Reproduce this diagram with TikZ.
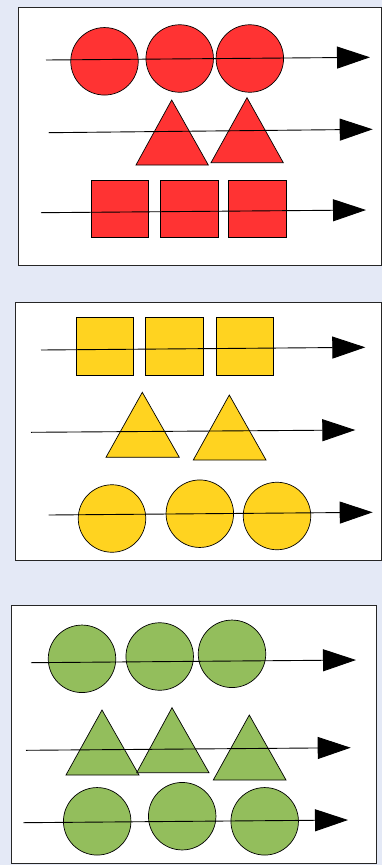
\documentclass[tikz,border=0pt]{standalone}
\usetikzlibrary{arrows.meta}
\definecolor{bgc}{RGB}{228,233,246}
\definecolor{redf}{RGB}{255,51,51}
\definecolor{yelf}{RGB}{255,211,32}
\definecolor{grnf}{RGB}{147,190,92}
\tikzset{
  panel/.style={draw=black!85,fill=white,line width=0.9pt},
  disc/.style={circle,draw=black,line width=0.7pt,minimum size=67.5pt,inner sep=0pt},
  sq/.style={draw=black,line width=0.7pt},
  tri/.style={draw=black,line width=0.7pt},
  axis/.style={draw=black,line width=0.9pt,-{Triangle[length=33pt,width=22pt]}}
}
\begin{document}
\begin{tikzpicture}[x=1pt,y=-1pt]
\fill[bgc] (0,0) rectangle (382,865);
\useasboundingbox (0,0) rectangle (382,865);
% ---------- panel 1 (red)
\draw[panel] (18,7) rectangle (381,265);
\node[disc,fill=redf] (r1) at (104.5,61.3) {};
\node[disc,fill=redf] (r2) at (179.7,58.5) {};
\node[disc,fill=redf] (r3) at (249.8,58.5) {};
\filldraw[tri,fill=redf] (171.7,100) -- (208.3,165) -- (136,165) -- cycle;
\filldraw[tri,fill=redf] (247,97.7) -- (283.3,162.7) -- (211,162.7) -- cycle;
\filldraw[sq,fill=redf] (91,180) rectangle (148.7,237.3);
\filldraw[sq,fill=redf] (160.7,180) rectangle (218.7,237.3);
\filldraw[sq,fill=redf] (228.3,180) rectangle (286,237.3);
\coordinate (a1s) at (46,60); \coordinate (a1e) at (370,57.3);
\coordinate (a2s) at (48.7,132.7); \coordinate (a2e) at (372.7,129.3);
\coordinate (a3s) at (41,212.7); \coordinate (a3e) at (366,210);
\draw[axis] (a1s) -- (a1e);
\draw[axis] (a2s) -- (a2e);
\draw[axis] (a3s) -- (a3e);
% ---------- panel 2 (yellow)
\draw[panel] (15.7,302.3) rectangle (381,560);
\filldraw[sq,fill=yelf] (76,317.3) rectangle (133.7,375.3);
\filldraw[sq,fill=yelf] (145.7,317.3) rectangle (203.7,375.3);
\filldraw[sq,fill=yelf] (216,317.3) rectangle (273.7,375.3);
\filldraw[tri,fill=yelf] (142.3,392.3) -- (179.3,457.3) -- (106,457.3) -- cycle;
\filldraw[tri,fill=yelf] (229.3,395) -- (266,460) -- (193.3,460) -- cycle;
\node[disc,fill=yelf] (y1) at (112,518.5) {};
\node[disc,fill=yelf] (y2) at (199.8,513.7) {};
\node[disc,fill=yelf] (y3) at (277,516) {};
\coordinate (b1s) at (41,350); \coordinate (b1e) at (365.3,347.3);
\coordinate (b2s) at (31,432.3); \coordinate (b2e) at (355.3,430);
\coordinate (b3s) at (48.7,515); \coordinate (b3e) at (372.7,512.3);
\draw[axis] (b1s) -- (b1e);
\draw[axis] (b2s) -- (b2e);
\draw[axis] (b3s) -- (b3e);
% ---------- panel 3 (green)
\draw[panel] (11,605) rectangle (376,863.3);
\node[disc,fill=grnf] (g1) at (82,658.8) {};
\node[disc,fill=grnf] (g2) at (159.7,656.5) {};
\node[disc,fill=grnf] (g3) at (232,653.8) {};
\filldraw[tri,fill=grnf] (102,710) -- (139,775) -- (66,775) -- cycle;
\filldraw[tri,fill=grnf] (172,707.7) -- (209,772.7) -- (136.7,772.7) -- cycle;
\filldraw[tri,fill=grnf] (249.3,715) -- (286,780) -- (213.3,780) -- cycle;
\node[disc,fill=grnf] (g4) at (97.2,821.3) {};
\node[disc,fill=grnf] (g5) at (182.2,816.2) {};
\node[disc,fill=grnf] (g6) at (264.7,821.3) {};
\coordinate (c1s) at (31,662.7); \coordinate (c1e) at (356,660);
\coordinate (c2s) at (26,750.3); \coordinate (c2e) at (350.7,747.7);
\coordinate (c3s) at (23.3,822.7); \coordinate (c3e) at (348,820);
\draw[axis] (c1s) -- (c1e);
\draw[axis] (c2s) -- (c2e);
\draw[axis] (c3s) -- (c3e);
\end{tikzpicture}
\end{document}
